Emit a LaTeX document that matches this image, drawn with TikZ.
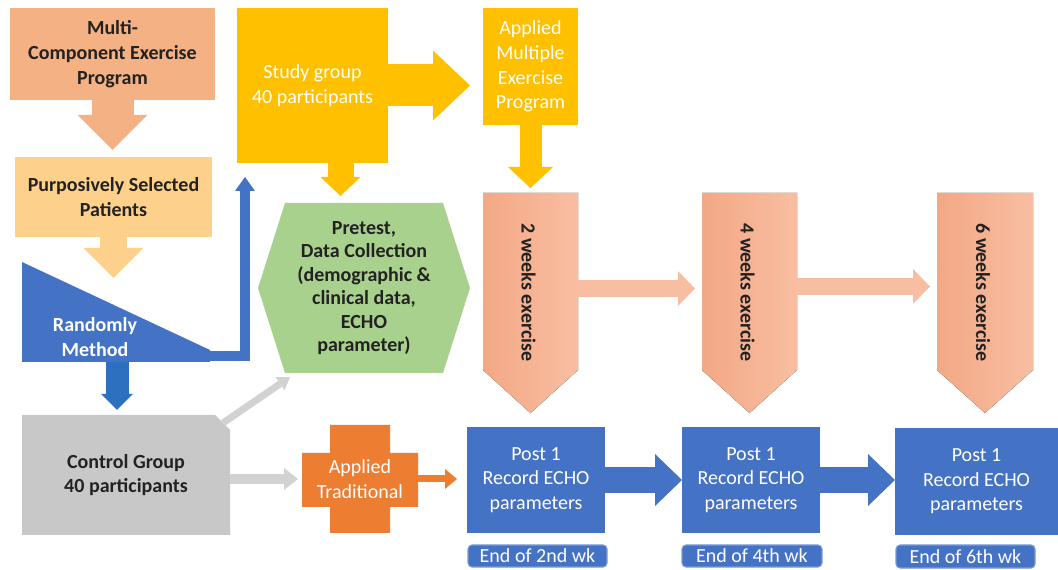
\documentclass[tikz,border=0pt]{standalone}
\usepackage{fontspec}
\setmainfont{Carlito}
\usetikzlibrary{arrows.meta,calc}
\definecolor{salmon}{HTML}{F4B183}
\definecolor{salmonD}{HTML}{F3A885}
\definecolor{salmonL}{HTML}{F8BEA2}
\definecolor{peach}{HTML}{FDD08C}
\definecolor{gold}{HTML}{FFC000}
\definecolor{ofblue}{HTML}{4472C4}
\definecolor{darkblue}{HTML}{2E70C0}
\definecolor{hexgreen}{HTML}{A9D18E}
\definecolor{ctrlgray}{HTML}{C8C8C8}
\definecolor{arrgray}{HTML}{D2D2D2}
\definecolor{orangeT}{HTML}{ED7D31}
\definecolor{ink}{HTML}{222222}
\begin{document}
\begin{tikzpicture}[x=0.75pt,y=-0.75pt,
  rbox/.style n args={4}{inner sep=0pt, outer sep=0pt,
     minimum width={(#3-#1)*0.75pt}, minimum height={(#4-#2)*0.75pt},
     at={({(#1+#3)/2},{(#2+#4)/2})}},
  btxt/.style={inner sep=0pt, align=center, text=ink, font=\fontsize{15}{18.5}\selectfont\bfseries},
  wtxt/.style={inner sep=0pt, align=center, text=white, font=\fontsize{15}{18.5}\selectfont},
  bwtxt/.style={inner sep=0pt, align=center, text=white, font=\fontsize{15}{18.5}\selectfont\bfseries},
  blk/.style n args={4}{draw=#1, line width=#2, -{Triangle[width=#3, length=#4, line width=0pt]}},
  labbox/.style={fill=ofblue, draw=ofblue!70!white, line width=0.8pt, rounded corners=3pt, wtxt}
]
\fill[white] (0,0) rectangle (1058,570);
\path[use as bounding box] (0,0) rectangle (1058,570);

% ---- left column ----
\node[rbox={10}{8}{215}{100}, fill=salmon, btxt] (multi) {Multi-\\Component Exercise\\Program};
\node[rbox={15}{157}{212}{237}, fill=peach, btxt] (purp) {Purposively Selected\\Patients};

\fill[ofblue] (22,262) -- (210,350) -- (210,362) -- (22,362) -- cycle;
\node[bwtxt] (rand) at (95,337) {Randomly\\Method};
\coordinate (randtop) at (113.5,278);
\coordinate (randout) at (200,356);
\coordinate (randbot) at (117,362);

\fill[ctrlgray] (22,415) -- (215,415) -- (230,430) -- (230,535) -- (22,535) -- cycle;
\node[rbox={22}{415}{230}{535}, btxt] (ctrl) {Control Group\\40 participants};

\fill[orangeT] (330,425) rectangle (390,533) (302,453) rectangle (418,507);
\node[rbox={302}{425}{418}{533}, wtxt] (trad) {Applied\\Traditional};

% ---- top ----
\node[rbox={237}{8}{388}{163}, fill=gold, wtxt] (study) {Study group\\40 participants};
\node[rbox={483}{8}{578}{125}, fill=gold, wtxt] (am) {Applied\\Multiple\\Exercise\\Program};

\fill[hexgreen] (258,288) -- (285,203) -- (443,203) -- (470,288) -- (443,373) -- (285,373) -- cycle;
\node[rbox={258}{203}{470}{373}, btxt, font=\fontsize{15}{17.6}\selectfont\bfseries] (hex) {Pretest,\\Data Collection\\(demographic \&\\clinical data,\\ECHO\\parameter)};

% ---- exercise pentagons ----
\fill[left color=salmonD, right color=salmonL] (483,193) -- (578,193) -- (578,370) -- (530.5,413) -- (483,370) -- cycle;
\node[rbox={483}{193}{578}{370}] (pent1) {};
\node[btxt, rotate=-90] at ($(pent1.center)+(-2,11)$) {2 weeks exercise};

\fill[left color=salmonD, right color=salmonL] (702,193) -- (797,193) -- (797,370) -- (749.5,413) -- (702,370) -- cycle;
\node[rbox={702}{193}{797}{370}] (pent2) {};
\node[btxt, rotate=-90] at ($(pent2.center)+(-2,11)$) {4 weeks exercise};

\fill[left color=salmonD, right color=salmonL] (937,193) -- (1033,193) -- (1033,370) -- (985,413) -- (937,370) -- cycle;
\node[rbox={937}{193}{1033}{370}] (pent3) {};
\node[btxt, rotate=-90] at ($(pent3.center)+(-2,11)$) {6 weeks exercise};

% ---- post boxes ----
\node[rbox={467}{427}{605}{533}, fill=ofblue, wtxt] (post1) {Post 1\\Record ECHO\\parameters};
\node[rbox={682}{427}{820}{533}, fill=ofblue, wtxt] (post2) {Post 1\\Record ECHO\\parameters};
\node[rbox={895}{428}{1058}{535}, fill=ofblue, wtxt] (post3) {Post 1\\Record ECHO\\parameters};

\node[rbox={468}{545}{607}{567}, labbox] (lab1) {End of 2nd wk};
\node[rbox={682}{545}{822}{567}, labbox] (lab2) {End of 4th wk};
\node[rbox={896}{545}{1035}{568}, labbox] (lab3) {End of 6th wk};

% ---- connectors ----
\draw[blk={salmon}{31.5pt}{52.5pt}{26.25pt}, shorten >=5.25pt] (multi.south) -- (multi.south |- purp.north);
\draw[blk={peach}{20.25pt}{45pt}{22.5pt}] (purp.south) -- (randtop);
\draw[blk={ofblue}{7.5pt}{15pt}{10.5pt}, shorten >=10.5pt] (randout) -| ($(study.south west)+(8,0)$);
\draw[blk={darkblue}{17.25pt}{24pt}{12pt}, shorten >=3.75pt] (randbot) -- (randbot |- ctrl.north);

\draw[blk={arrgray}{5.25pt}{12pt}{9pt}] ($(ctrl.north east)+(-7,8)$) -- ($(hex.south west)+(32,4)$);
\draw[blk={arrgray}{7.5pt}{16.5pt}{10.5pt}, shorten >=3pt] (ctrl.east |- trad.west) -- (trad.west);
\draw[blk={orangeT}{5.25pt}{15pt}{9pt}, shorten >=7.5pt] (trad.east) -- (trad.east -| post1.west);

\draw[blk={gold}{31.5pt}{52.5pt}{27.75pt}, shorten >=9.75pt] (study.east) -- (study.east -| am.west);
\coordinate (sh) at ($(study.south)+(28,0)$);
\draw[blk={gold}{19.5pt}{30pt}{14.25pt}, shorten >=5.25pt] (sh) -- (sh |- hex.north);
\draw[blk={gold}{16.5pt}{33.75pt}{15.75pt}, shorten >=3.75pt] (am.south) -- (am.south |- pent1.north);

\draw[blk={salmonL}{12.75pt}{26.25pt}{12.75pt}, shorten >=5.25pt] ($(pent1.east)+(0,7)$) -- ($(pent2.west)+(0,7)$);
\draw[blk={salmonL}{12.75pt}{26.25pt}{12.75pt}, shorten >=5.25pt] ($(pent2.east)+(0,5)$) -- ($(pent3.west)+(0,5)$);

\draw[blk={ofblue}{19.5pt}{39pt}{20.25pt}] (post1.east) -- (post2.west);
\draw[blk={ofblue}{19.5pt}{39pt}{20.25pt}] (post2.east) -- (post2.east -| post3.west);
\end{tikzpicture}
\end{document}
